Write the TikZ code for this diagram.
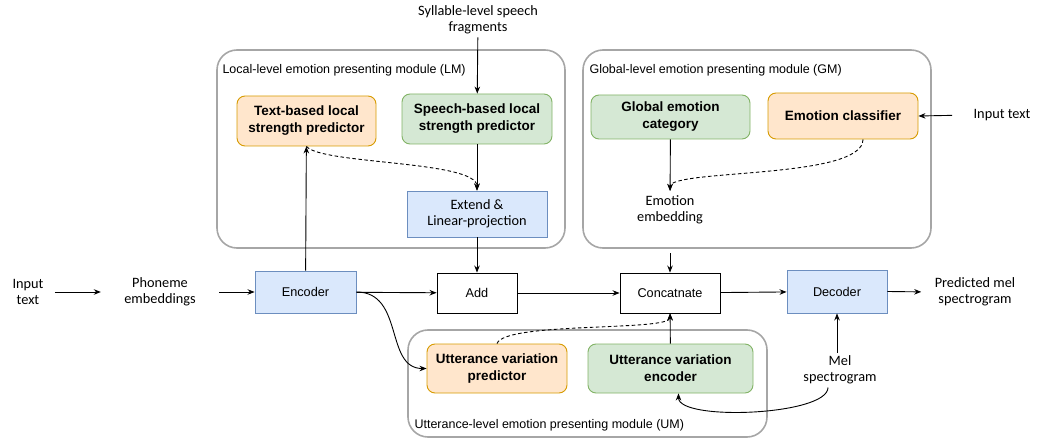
\documentclass[tikz,border=0pt]{standalone}
\usepackage{fontspec}
\setmainfont{Liberation Sans}
\newfontfamily\calib{Carlito}
\usetikzlibrary{arrows.meta}
\definecolor{blueF}{HTML}{DAE8FC}
\definecolor{blueD}{HTML}{6C8EBF}
\definecolor{orgF}{HTML}{FFE6CC}
\definecolor{orgD}{HTML}{D79B00}
\definecolor{grnF}{HTML}{D5E8D4}
\definecolor{grnD}{HTML}{82B366}
\begin{document}
\begin{tikzpicture}[x=1pt,y=-1pt,>={Stealth[length=7pt,width=5.5pt]},
                   module/.style={draw=black!35,line width=1.6pt,rounded corners=20pt},
                   modname/.style={anchor=west,font=\fontsize{12.5}{14}\selectfont},
                   plain/.style={draw,line width=0.9pt,fill=white,font=\fontsize{12.7}{15}\selectfont},
                   bluebox/.style={draw=blueD,fill=blueF,line width=0.9pt,align=center},
                   orgbox/.style={draw=orgD,fill=orgF,line width=0.9pt,rounded corners=8pt,align=center,font=\bfseries\fontsize{13.5}{17}\selectfont},
                   grnbox/.style={draw=grnD,fill=grnF,line width=0.9pt,rounded corners=8pt,align=center,font=\bfseries\fontsize{13.5}{17}\selectfont},
                   txt/.style={align=center,font=\calib\fontsize{14.3}{15.5}\selectfont},
                   link/.style={->,line width=0.9pt},
                   dlink/.style={->,line width=0.9pt,dash pattern=on 3.5pt off 2.5pt}]
\useasboundingbox (0,0) rectangle (1053,441);
\draw[module] (217,50) rectangle (565,248);
\draw[module] (583,50) rectangle (931,248);
\draw[module] (408,330) rectangle (767,437);
\node[modname] (lmname) at (219,70) {Local-level emotion presenting module (LM)};
\node[modname] (gmname) at (586,70) {Global-level emotion presenting module (GM)};
\node[modname] (umname) at (411,425) {Utterance-level emotion presenting module (UM)};

\node[txt] (intext) at (28,292) {Input\\text};
\node[txt] (phon) at (160,292) {Phoneme\\embeddings};
\node[bluebox,minimum width=101pt,minimum height=42pt,font=\fontsize{12.7}{15}\selectfont] (enc) at (305.5,292) {Encoder};
\node[plain,minimum width=80pt,minimum height=40pt] (add) at (477,293) {Add};
\node[plain,minimum width=100pt,minimum height=40pt] (concat) at (670,293) {Concatnate};
\node[bluebox,minimum width=100pt,minimum height=43pt,font=\fontsize{12.7}{15}\selectfont] (dec) at (837,291.5) {Decoder};
\node[txt] (pred) at (975,292) {Predicted mel\\spectrogram};

\node[txt] (syl) at (478,20) {Syllable-level speech\\fragments};
\node[orgbox,minimum width=139pt,minimum height=50pt] (textp) at (306.5,121) {Text-based local\\strength predictor};
\node[grnbox,minimum width=150pt,minimum height=50pt] (speechp) at (477,119) {Speech-based local\\strength predictor};
\node[bluebox,minimum width=140pt,minimum height=46pt,txt] (ext) at (477,214) {Extend \&\\Linear-projection};

\node[grnbox,minimum width=159pt,minimum height=44pt] (glob) at (670.5,117) {Global emotion\\category};
\node[orgbox,minimum width=150pt,minimum height=46pt] (cls) at (843,116) {Emotion classifier};
\node[txt] (intext2) at (1002,115) {Input text};
\node[txt,inner ysep=5pt] (emb) at (670,210) {Emotion\\embedding};

\node[orgbox,minimum width=140pt,minimum height=49pt] (uvp) at (497,368.5) {Utterance variation\\predictor};
\node[grnbox,minimum width=165pt,minimum height=49pt] (uve) at (670.5,368.5) {Utterance variation\\encoder};
\node[txt] (mel) at (840,370) {Mel\\spectrogram};

\draw[link,shorten <=8pt,shorten >=20pt] (intext) -- (phon);
\draw[link,shorten <=20pt] (phon.east) -- (enc.west);
\draw[link] (enc) -- (add);
\draw[link] (add) -- (concat);
\draw[link] (concat) -- (dec);
\draw[link,shorten >=10pt] (dec.east) -- (pred.west);
\draw[link] (syl) -- (speechp);
\draw[link] (speechp) -- (ext);
\draw[link] (ext) -- (add);
\draw[link] (enc) -- (textp);
\draw[dlink] (textp.south) .. controls +(15,18) and +(0,-30) .. (ext.north);
\draw[link] (glob) -- (emb);
\draw[dlink] ([xshift=20pt]cls.south) .. controls +(0,40) and +(0,-22) .. (emb.north);
\draw[link,shorten <=24pt] (emb) -- (concat);
\draw[link,shorten <=18pt] (intext2.west) -- (cls.east);
\draw[link] (enc.east) .. controls +(48,0) and +(-42,0) .. (uvp.west);
\draw[dlink] (uvp.north) .. controls +(8,-22) and +(0,18) .. (concat.south);
\draw[link] (uve) -- (concat);
\draw[link] (dec.south |- mel.north) -- (dec.south);
\draw[link] ([xshift=-12pt]mel.south) .. controls +(0,28) and +(0,28) .. ([xshift=8pt]uve.south);
\end{tikzpicture}
\end{document}
